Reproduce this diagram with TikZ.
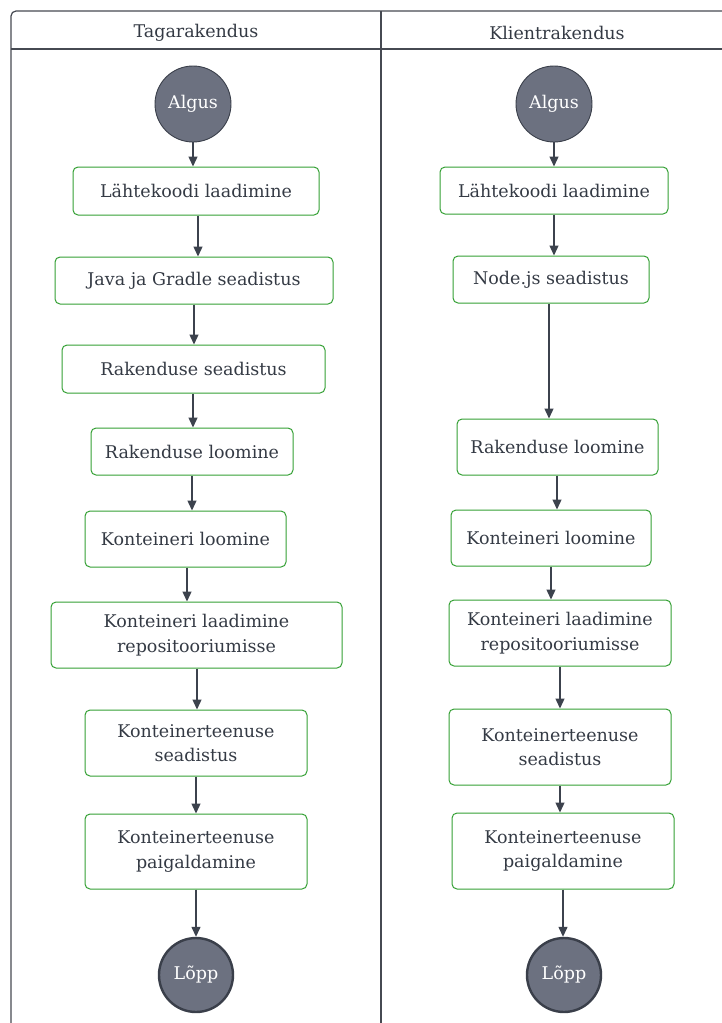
\documentclass[tikz,border=0pt]{standalone}
\usepackage{fontspec}
\setmainfont{DejaVu Serif}
\usetikzlibrary{arrows.meta}
\definecolor{boxgreen}{RGB}{52,160,52}
\definecolor{txt}{RGB}{52,58,68}
\definecolor{circfill}{RGB}{108,113,128}
\definecolor{circdraw}{RGB}{58,63,74}
\definecolor{lanecol}{RGB}{70,74,82}
\definecolor{arrcol}{RGB}{60,66,77}
\tikzset{
  box/.style={draw=boxgreen, rounded corners=5pt, line width=1pt, text=txt, align=center, inner sep=0pt,
    font=\fontsize{17.5}{24.5}\selectfont},
  startc/.style={circle, fill=circfill, draw=circdraw, line width=0.9pt, minimum size=76pt, inner sep=0pt,
    text=white, font=\fontsize{17.5}{20}\selectfont},
  endc/.style={circle, fill=circfill, draw=circdraw, line width=2.4pt, minimum size=74pt, inner sep=0pt,
    text=white, font=\fontsize{17.5}{20}\selectfont},
  arr/.style={draw=arrcol, line width=1.3pt, -{Triangle[length=10pt,width=9pt]}},
  lane/.style={draw=lanecol, line width=1.2pt},
  head/.style={text=txt, font=\fontsize{17.5}{20}\selectfont}
}
\begin{document}
\begin{tikzpicture}[x=1pt,y=-1pt]
\useasboundingbox (0,0) rectangle (722,1023);
% swimlane frame
\draw[lane, rounded corners=5pt] (11,1030) -- (11,11) -- (730,11);
\draw[lane] (11,49) -- (730,49);
\draw[lane] (381,11) -- (381,1030);
\node[head] (h1) at (196,32.5) {Tagarakendus};
\node[head] (h2) at (557,32.5) {Klientrakendus};

% left lane
\node[startc] (a0) at (193,104) {Algus};
\node[box, minimum width=246pt, minimum height=48pt] (a1) at (196,191) {Lähtekoodi laadimine};
\node[box, minimum width=278pt, minimum height=47pt] (a2) at (194,280.5) {Java ja Gradle seadistus};
\node[box, minimum width=263pt, minimum height=48pt] (a3) at (193.5,369) {Rakenduse seadistus};
\node[box, minimum width=202pt, minimum height=47pt] (a4) at (192,451.5) {Rakenduse loomine};
\node[box, minimum width=201pt, minimum height=56pt] (a5) at (185.5,539) {Konteineri loomine};
\node[box, minimum width=291pt, minimum height=66pt] (a6) at (196.5,635) {Konteineri laadimine\\repositooriumisse};
\node[box, minimum width=222pt, minimum height=66pt] (a7) at (196,743) {Konteinerteenuse\\seadistus};
\node[box, minimum width=222pt, minimum height=75pt] (a8) at (196,851.5) {Konteinerteenuse\\paigaldamine};
\node[endc] (a9) at (196,975) {Lõpp};

\draw[arr] (a0.south) -- (a0.south |- a1.north);
\draw[arr] ([xshift=2pt]a1.south) -- ([xshift=2pt]a1.south |- a2.north);
\draw[arr] (a2.south) -- (a2.south |- a3.north);
\draw[arr] ([xshift=-0.5pt]a3.south) -- ([xshift=-0.5pt]a3.south |- a4.north);
\draw[arr] (a4.south) -- (a4.south |- a5.north);
\draw[arr] ([xshift=1.5pt]a5.south) -- ([xshift=1.5pt]a5.south |- a6.north);
\draw[arr] ([xshift=0.5pt]a6.south) -- ([xshift=0.5pt]a6.south |- a7.north);
\draw[arr] (a7.south) -- (a7.south |- a8.north);
\draw[arr] (a8.south) -- (a8.south |- a9.north);

% right lane
\node[startc] (b0) at (554,104) {Algus};
\node[box, minimum width=228pt, minimum height=47pt] (b1) at (554,190.5) {Lähtekoodi laadimine};
\node[box, minimum width=196pt, minimum height=47pt] (b2) at (551,279.5) {Node.js seadistus};
\node[box, minimum width=201pt, minimum height=56pt] (b3) at (557.5,447) {Rakenduse loomine};
\node[box, minimum width=200pt, minimum height=56pt] (b4) at (551,538) {Konteineri loomine};
\node[box, minimum width=222pt, minimum height=66pt] (b5) at (560,633) {Konteineri laadimine\\repositooriumisse};
\node[box, minimum width=222pt, minimum height=76pt] (b6) at (560,747) {Konteinerteenuse\\seadistus};
\node[box, minimum width=222pt, minimum height=76pt] (b7) at (563,851) {Konteinerteenuse\\paigaldamine};
\node[endc] (b8) at (564,975) {Lõpp};

\draw[arr] (b0.south) -- (b0.south |- b1.north);
\draw[arr] (b1.south) -- (b1.south |- b2.north);
\draw[arr] ([xshift=-2pt]b2.south) -- ([xshift=-2pt]b2.south |- b3.north);
\draw[arr] ([xshift=-0.5pt]b3.south) -- ([xshift=-0.5pt]b3.south |- b4.north);
\draw[arr] (b4.south) -- (b4.south |- b5.north);
\draw[arr] (b5.south) -- (b5.south |- b6.north);
\draw[arr] (b6.south) -- (b6.south |- b7.north);
\draw[arr] (b7.south) -- (b7.south |- b8.north);
\end{tikzpicture}
\end{document}
